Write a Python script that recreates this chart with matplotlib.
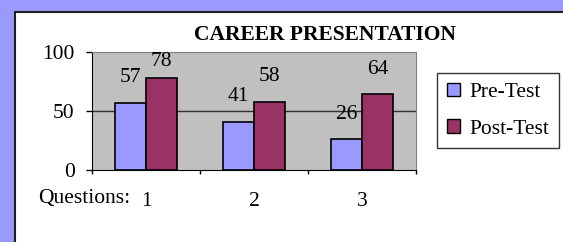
import numpy as np
import matplotlib.pyplot as plt
from matplotlib.patches import Rectangle, Patch

questions = ["1", "2", "3"]
pre_test = [57, 41, 26]
post_test = [78, 58, 64]
series_names = ["Pre-Test", "Post-Test"]

plt.rcParams['font.family'] = ['Liberation Serif', 'DejaVu Serif']
FS = 15.5

W, H = 563, 242
fig = plt.figure(figsize=(W / 100, H / 100), dpi=100)
fig.patch.set_facecolor('#9999FF')

# white panel with dark border (cropped on right/bottom)
panel = Rectangle((14.5 / W, -0.1), 1.2, 1 - 11.5 / H + 0.1, transform=fig.transFigure,
                  facecolor='white', edgecolor='#202020', linewidth=1.5, zorder=-5)
fig.patches.append(panel)

ax = fig.add_axes([92 / W, 72 / H, 324 / W, 118 / H])
ax.set_facecolor('#C0C0C0')

x = np.arange(len(questions))
bw = 0.287
ax.bar(x - bw / 2, pre_test, bw, color='#9999FF', edgecolor='black', linewidth=1.2, zorder=3)
ax.bar(x + bw / 2, post_test, bw, color='#993366', edgecolor='black', linewidth=1.2, zorder=3)

ax.set_xlim(-0.5, 2.5)
ax.set_ylim(0, 100)
ax.set_yticks([0, 50, 100])
ax.tick_params(axis='y', direction='out', length=4.5, width=1, labelsize=FS, pad=8)
ax.set_xticks([-0.5, 0.5, 1.5, 2.5])
ax.set_xticklabels([])
ax.tick_params(axis='x', direction='out', length=3, width=1)
ax.axhline(50, color='#303030', linewidth=1, zorder=2)
for s in ['top', 'right']:
    ax.spines[s].set_color('#808080')
for s in ['left', 'bottom']:
    ax.spines[s].set_color('black')

# value labels
for xs, vals in [(x - bw / 2, pre_test), (x + bw / 2, post_test)]:
    for xi, v in zip(xs, vals):
        ax.text(xi, min(v + 21, 92), str(v), ha='center', va='center', fontsize=FS, zorder=4)

# category labels
for xi, q in zip(x, questions):
    ax.text(xi, -0.265, q, transform=ax.get_xaxis_transform(), ha='center', va='center',
            fontsize=FS)
fig.text(38 / W, 1 - 199 / H, "Questions:", ha='left', va='center', fontsize=FS)

fig.text(325 / W, 1 - 35 / H, "CAREER PRESENTATION", ha='center', va='center',
         fontsize=FS, fontweight='bold')

handles = [Patch(facecolor='#9999FF', edgecolor='black'),
           Patch(facecolor='#993366', edgecolor='black')]
leg = fig.legend(handles, series_names, loc='upper left', bbox_to_anchor=(437 / W, 1 - 73 / H),
                 fontsize=FS, frameon=True, fancybox=False, handlelength=0.6, handleheight=0.6,
                 handletextpad=0.45, labelspacing=0.8, borderpad=0.45, borderaxespad=0)
leg.get_frame().set_edgecolor('black')
leg.get_frame().set_linewidth(1)

fig.savefig('out.png', dpi=100)
